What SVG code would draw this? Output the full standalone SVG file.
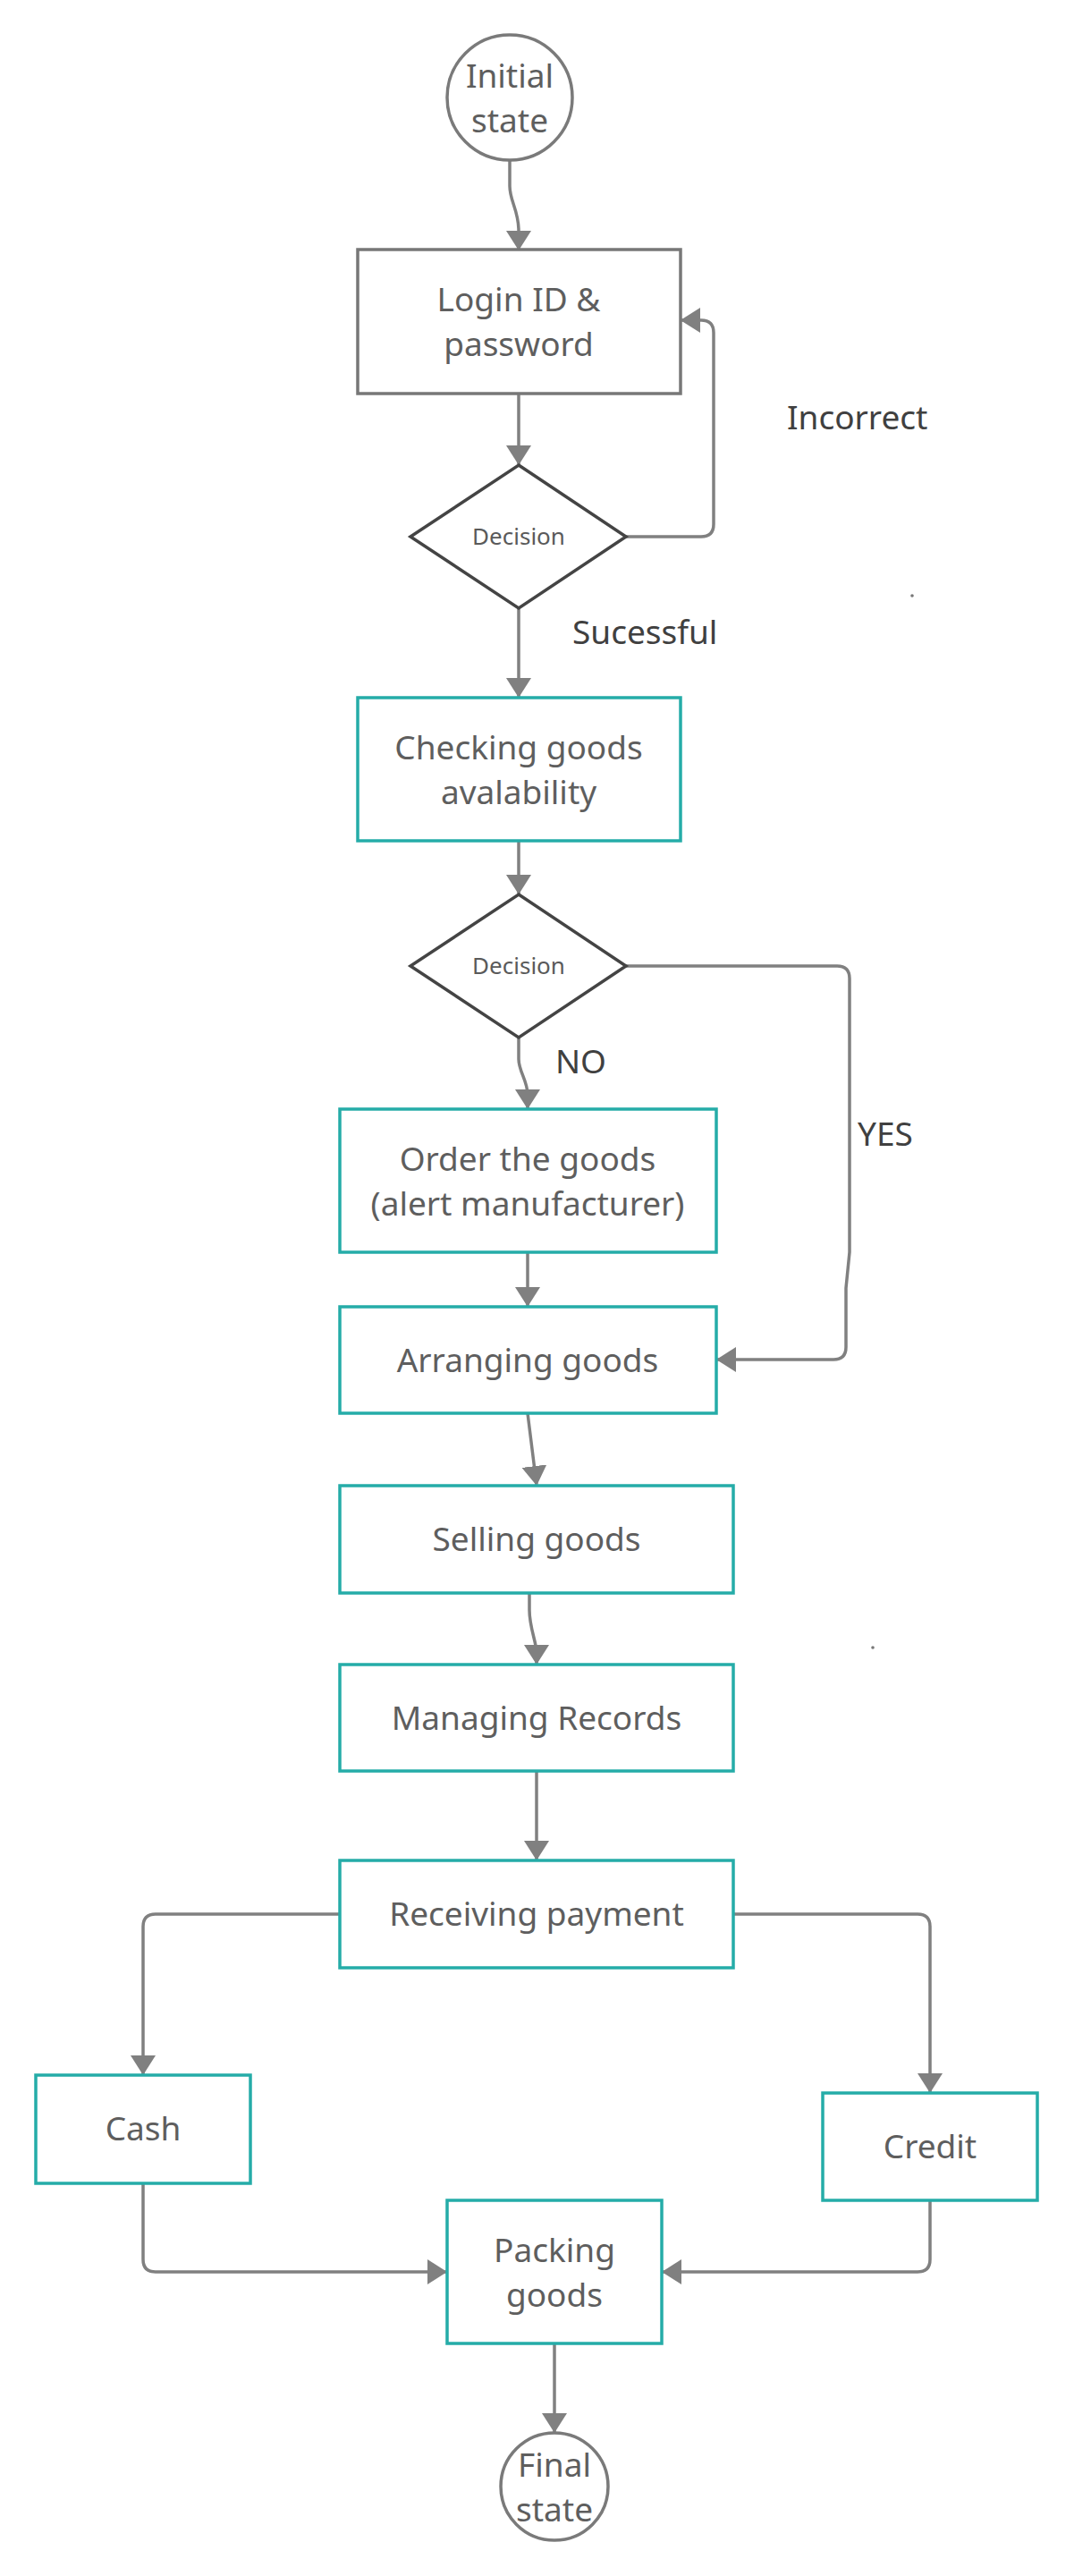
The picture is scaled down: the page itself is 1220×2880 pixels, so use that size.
<svg xmlns="http://www.w3.org/2000/svg" width="1220" height="2880" viewBox="0 0 1220 2880">
<defs>
<style>
.t{font-family:"Noto Sans","Open Sans","DejaVu Sans",sans-serif;font-size:37px;fill:#5e5e5e;text-anchor:middle}
.d{font-family:"Noto Sans","Open Sans","DejaVu Sans",sans-serif;font-size:26px;fill:#5a5a5a;text-anchor:middle}
.l{font-family:"Noto Sans","Open Sans","DejaVu Sans",sans-serif;font-size:37px;fill:#404040}
.box{fill:#fff;stroke:#25aca8;stroke-width:3.5}
.gbox{fill:#fff;stroke:#777;stroke-width:3.5}
.circ{fill:#fff;stroke:#7a7a7a;stroke-width:3.5}
.dia{fill:#fff;stroke:#444;stroke-width:3.5;stroke-linejoin:miter}
.c{fill:none;stroke:#808080;stroke-width:3.5;marker-end:url(#ah)}
</style>
<marker id="ah" markerUnits="userSpaceOnUse" viewBox="0 0 22 28" refX="21" refY="14" markerWidth="22" markerHeight="28" orient="auto">
<path d="M0,0 L22,14 L0,28 z" fill="#808080"/>
</marker>
</defs>
<rect width="1220" height="2880" fill="#fff"/>
<g id="connectors">
<path class="c" d="M570,180 V208 C570,225 580,235 580,258 V279"/>
<path class="c" d="M580,441 V519"/>
<path class="c" d="M700,600 H784 Q798,600 798,586 V372 Q798,358 784,358 H762"/>
<path class="c" d="M580,680 V779"/>
<path class="c" d="M580,940 V999"/>
<path class="c" d="M700,1080 H936 Q950,1080 950,1094 V1400 L946,1440 V1506 Q946,1520 932,1520 H802"/>
<path class="c" d="M580,1160 V1184 C580,1198 590,1208 590,1224 V1239"/>
<path class="c" d="M590,1400 V1460"/>
<path class="c" d="M590,1580 L600,1660"/>
<path class="c" d="M592,1781 V1800 C592,1820 600,1836 600,1848 V1860"/>
<path class="c" d="M600,1980 V2079"/>
<path class="c" d="M380,2140 H174 Q160,2140 160,2154 V2319"/>
<path class="c" d="M820,2140 H1026 Q1040,2140 1040,2154 V2339"/>
<path class="c" d="M160,2441 V2526 Q160,2540 174,2540 H499"/>
<path class="c" d="M1040,2461 V2526 Q1040,2540 1026,2540 H741"/>
<path class="c" d="M620,2621 V2719"/>
</g>
<g id="initial"><ellipse class="circ" cx="570" cy="109" rx="70" ry="70"/><text class="t" x="570" y="98">Initial</text><text class="t" x="570" y="148">state</text></g>
<g id="login"><rect class="gbox" x="400" y="279" width="361" height="161"/><text class="t" x="580" y="348">Login ID &amp;</text><text class="t" x="580" y="398">password</text></g>
<g id="decision1"><polygon class="dia" points="580,520 700,600 580,680 459,600"/><text class="d" x="580" y="609">Decision</text></g>
<g id="checking"><rect class="box" x="400" y="780" width="361" height="160"/><text class="t" x="580" y="849">Checking goods</text><text class="t" x="580" y="899">avalability</text></g>
<g id="decision2"><polygon class="dia" points="580,1000 700,1080 580,1160 459,1080"/><text class="d" x="580" y="1089">Decision</text></g>
<g id="order"><rect class="box" x="380" y="1240" width="421" height="160"/><text class="t" x="590" y="1309">Order the goods</text><text class="t" x="590" y="1359">(alert manufacturer)</text></g>
<g id="arranging"><rect class="box" x="380" y="1461" width="421" height="119"/><text class="t" x="590" y="1534">Arranging goods</text></g>
<g id="selling"><rect class="box" x="380" y="1661" width="440" height="120"/><text class="t" x="600" y="1734">Selling goods</text></g>
<g id="managing"><rect class="box" x="380" y="1861" width="440" height="119"/><text class="t" x="600" y="1934">Managing Records</text></g>
<g id="receiving"><rect class="box" x="380" y="2080" width="440" height="120"/><text class="t" x="600" y="2153">Receiving payment</text></g>
<g id="cash"><rect class="box" x="40" y="2320" width="240" height="121"/><text class="t" x="160" y="2393">Cash</text></g>
<g id="credit"><rect class="box" x="920" y="2340" width="240" height="120"/><text class="t" x="1040" y="2413">Credit</text></g>
<g id="packing"><rect class="box" x="500" y="2460" width="240" height="160"/><text class="t" x="620" y="2529">Packing</text><text class="t" x="620" y="2579">goods</text></g>
<g id="final"><ellipse class="circ" cx="620" cy="2780" rx="60" ry="60"/><text class="t" x="620" y="2769">Final</text><text class="t" x="620" y="2819">state</text></g>
<g id="labels">
<text class="l" x="880" y="480">Incorrect</text>
<text class="l" x="640" y="720">Sucessful</text>
<text class="l" x="621" y="1200">NO</text>
<text class="l" x="959" y="1281">YES</text>
<circle cx="1020" cy="666" r="1.8" fill="#777"/>
<circle cx="976" cy="1842" r="1.8" fill="#777"/>
</g>
</svg>
